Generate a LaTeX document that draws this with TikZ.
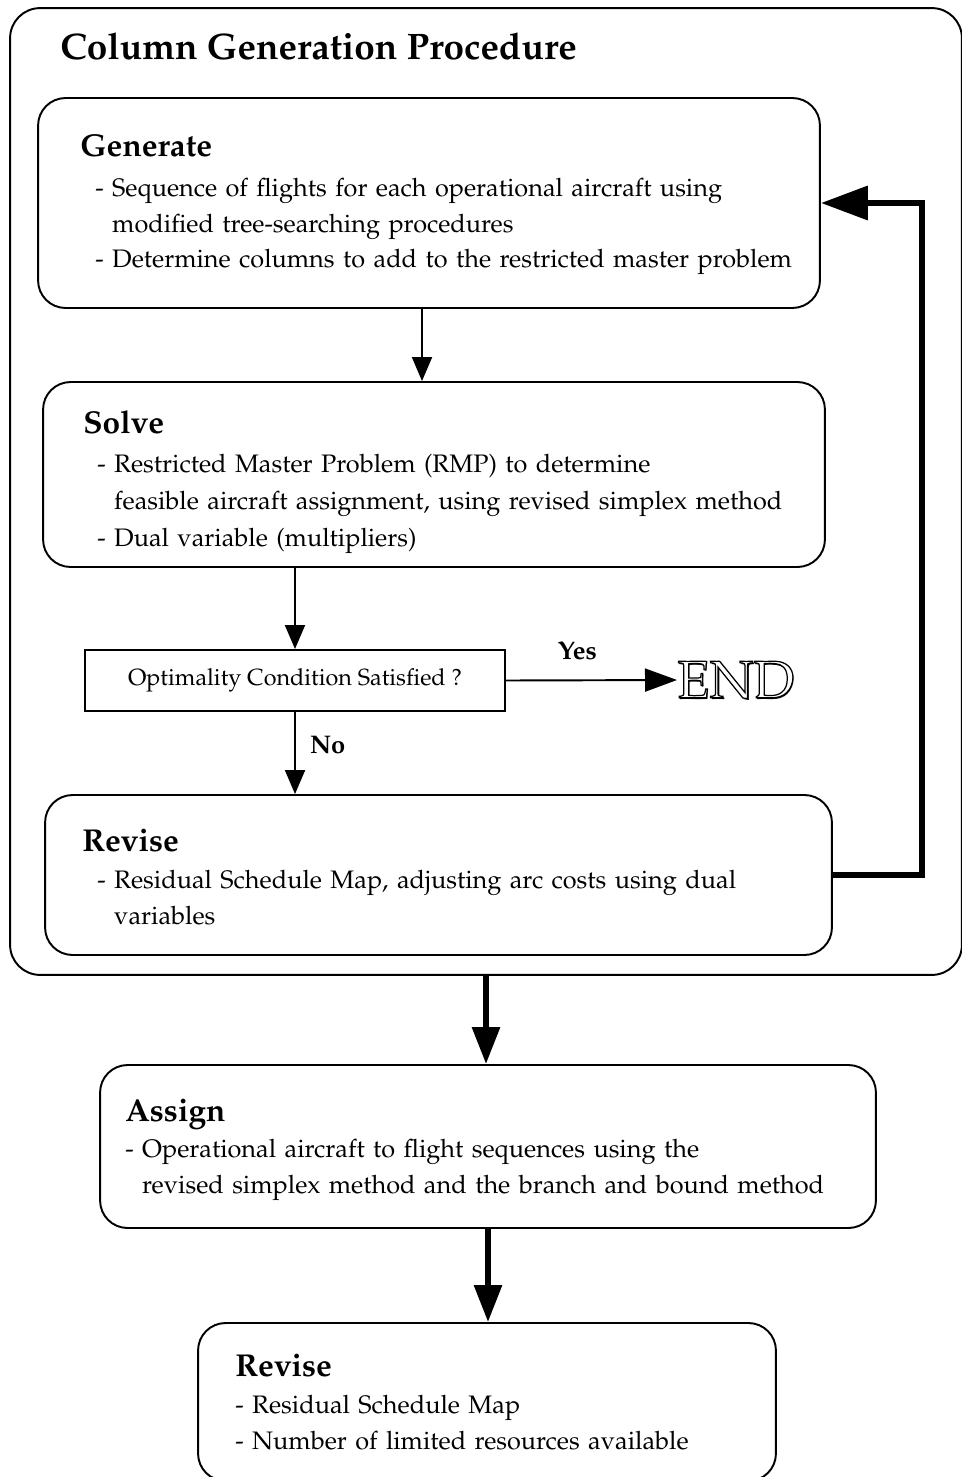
\documentclass[tikz,border=0pt]{standalone}
\usepackage[T1]{fontenc}
\usepackage{mathpazo}
\usetikzlibrary{positioning}
\usetikzlibrary{arrows.meta}

\tikzset{
  procbox/.style={draw, line width=1.1pt, rounded corners=0.55cm, inner sep=0pt},
  condbox/.style={draw, line width=1.1pt, inner sep=0pt, minimum width=8.4cm, minimum height=1.22cm, font=\fontsize{13.3}{15}\selectfont},
  boxtext/.style={anchor=base west, inner sep=0pt, text width=16cm, align=left, font=\fontsize{14.4}{20.4}\selectfont},
  flow/.style={line width=1.1pt, -{Triangle[length=0.48cm, width=0.4cm]}},
  bigflow/.style={line width=3.4pt, -{Triangle[length=0.74cm, width=0.54cm]}},
  answer/.style={font=\fontsize{14.5}{16}\selectfont\bfseries, inner sep=0pt},
}
\newcommand{\boxhead}[1]{{\fontsize{18}{20}\selectfont\bfseries #1}}
\newcommand{\cont}{\phantom{- }}
\newcommand{\outlined}[1]{\special{pdf:literal direct 0 G 2 Tr 0.7 w}#1\special{pdf:literal direct 0 Tr}}

\begin{document}
\begin{tikzpicture}[x=0.02cm, y=-0.02cm]
  \useasboundingbox (0,0) rectangle (961,1477);

  \node[procbox, minimum width=19.04cm, minimum height=19.34cm, rounded corners=0.6cm] (cg) at (486,491.5) {};
  \node[anchor=base west, inner sep=0pt, font=\fontsize{21}{24}\selectfont\bfseries] (title) at (60,60) {Column Generation Procedure};

  \node[procbox, minimum width=15.64cm, minimum height=4.2cm] (gen) at (429,203) {};
  \node[boxtext] (gen-txt) at (80,156) {\boxhead{Generate}\\[2.5pt]
    \hspace*{0.3cm}- Sequence of flights for each operational aircraft using\\
    \hspace*{0.3cm}\cont modified tree-searching procedures\\
    \hspace*{0.3cm}- Determine columns to add to the restricted master problem};

  \node[procbox, minimum width=15.64cm, minimum height=3.7cm] (solve) at (434,474.5) {};
  \node[boxtext] (solve-txt) at (83,433) {\boxhead{Solve}\\[2pt]
    \hspace*{0.28cm}- Restricted Master Problem (RMP) to determine\\[0.6pt]
    \hspace*{0.28cm}\cont feasible aircraft assignment, using revised simplex method\\[0.6pt]
    \hspace*{0.28cm}- Dual variable (multipliers)};

  \node[condbox] (opt) at (295,680.5) {Optimality Condition Satisfied ?};
  \node[anchor=west, inner sep=0pt, font=\fontsize{30}{30}\selectfont] (end-shd) at (678.5,681.5) {END};
  \node[anchor=west, inner sep=0pt, font=\fontsize{30}{30}\selectfont, text=white] (end) at (677,680) {\outlined{END}};

  \node[procbox, minimum width=15.74cm, minimum height=3.2cm] (rev) at (438.5,875) {};
  \node[boxtext] (rev-txt) at (82,851) {\boxhead{Revise}\\[1pt]
    \hspace*{0.3cm}- Residual Schedule Map, adjusting arc costs using dual\\
    \hspace*{0.3cm}\cont variables};

  \node[procbox, minimum width=15.52cm, minimum height=3.26cm] (assign) at (488,1146.5) {};
  \node[boxtext] (assign-txt) at (125,1121) {\boxhead{Assign}\\[0.5pt]
    - Operational aircraft to flight sequences using the\\
    \cont revised simplex method and the branch and bound method};

  \node[procbox, minimum width=11.56cm, minimum height=3.16cm] (rev2) at (487,1402) {};
  \node[boxtext] (rev2-txt) at (235,1376) {\boxhead{Revise}\\[1pt]
    - Residual Schedule Map\\
    - Number of limited resources available};

  \coordinate (back) at (922,875);

  \draw[flow] (gen.south -| 422,0) -- (solve.north -| 422,0);
  \draw[flow] (opt.north |- solve.south) -- (opt.north);
  \draw[flow] (opt.south) -- (opt.south |- rev.north) node[answer, pos=0.4, right=8pt] {No};
  \draw[flow, -{Triangle[length=0.64cm, width=0.46cm]}] (opt.east) -- (end.west) node[answer, midway, above=11pt, xshift=-8pt] {Yes};
  \draw[line width=3.8pt, -{Triangle[length=0.94cm, width=0.66cm]}] (rev.east) -- (back) |- (gen.east);
  \draw[bigflow] (cg.south) -- (cg.south |- assign.north);
  \draw[bigflow] (assign.south) -- (assign.south |- rev2.north);
\end{tikzpicture}
\end{document}
